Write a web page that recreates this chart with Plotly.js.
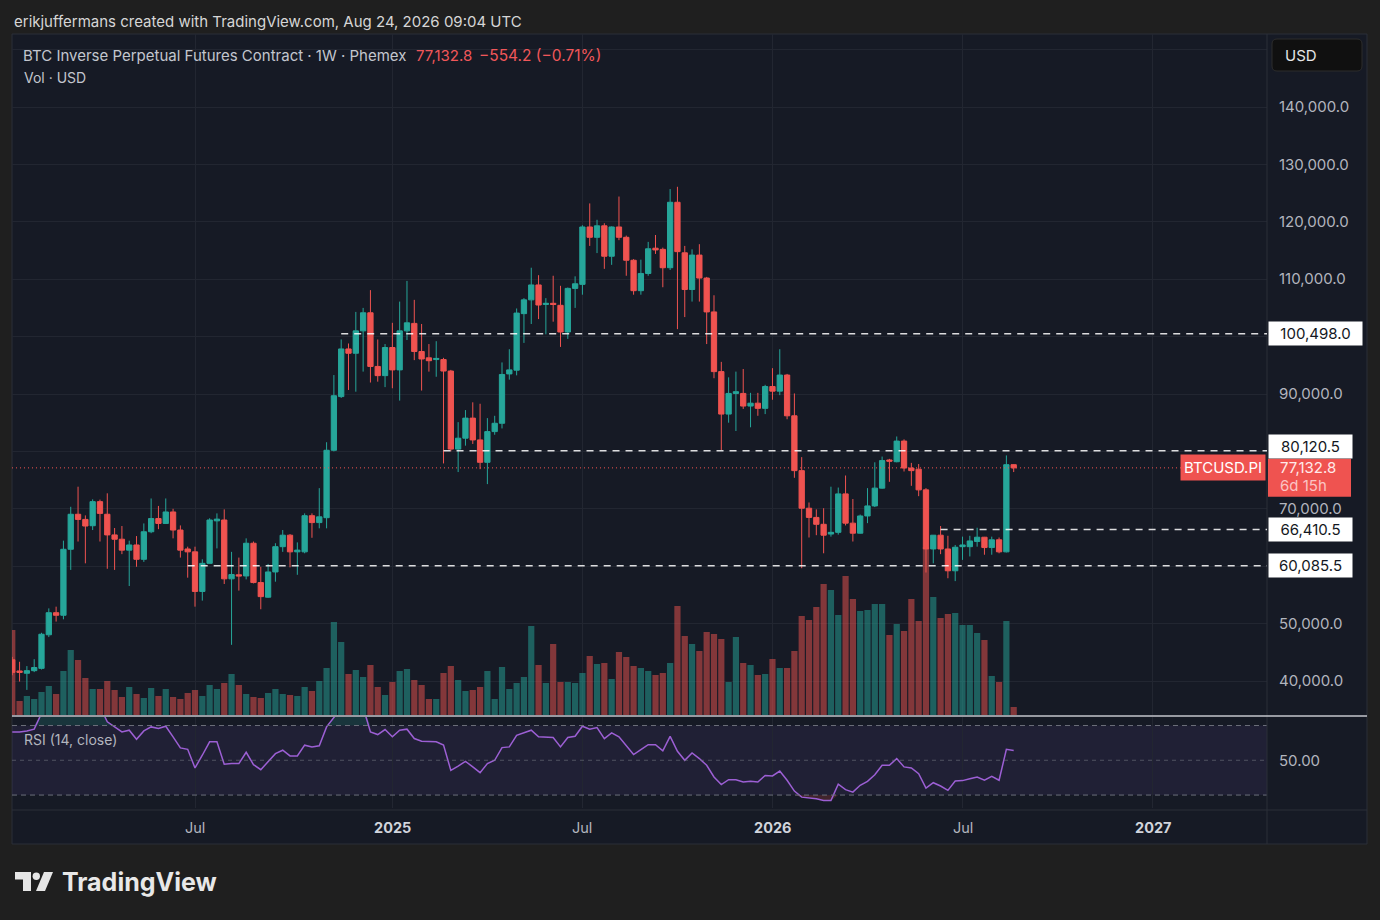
<!DOCTYPE html>
<html><head><meta charset="utf-8">
<script src="https://cdn.plot.ly/plotly-3.0.1.min.js"></script>
<style>html,body{margin:0;padding:0;background:#1f1f1f;}#chart{width:1380px;height:920px;}</style>
</head><body><div id="chart"></div>
<script>
// ---------------- DATA (weekly bars, first bar = week of 2024-01-08) ----------------
const firstWeek = '2024-01-08';
const open = [43700,41750,41350,41800,42200,48050,51900,51450,62950,69050,
68150,67050,71250,69050,65450,64700,62800,63700,61200,66000,
68300,67450,69450,66300,63000,62500,55600,60500,67900,68050,
57800,58500,58300,64000,57150,54600,59000,63400,65400,62500,
62500,68800,67600,68450,80200,89550,97850,97100,101000,104150,
94800,93200,98100,94200,101000,102300,97400,96300,96000,96000,
94000,80400,82300,85800,82000,78100,83450,84900,93500,94150,
104000,106400,109000,105600,105800,105450,100800,108400,109100,119100,
117300,119300,114000,119100,117300,113300,108000,111000,115400,115200,
112000,123400,114600,108200,114200,110200,104300,93900,86500,90100,
90100,87900,88400,87500,91300,90500,93300,86200,76650,70100,
68500,67300,65600,65900,72600,67500,65750,68750,70500,73600,
78500,78200,81800,77100,76900,73300,63000,65400,63000,59200,
63400,63400,64300,65050,63250,64600,62500,77687];
const high = [44200,43350,42600,43800,48400,52650,52950,64450,70350,73850,
68850,71650,71600,72700,66650,67000,64450,65250,67450,71800,
70500,71800,70000,67100,63400,63400,61200,68350,69200,69900,
62500,61500,64850,64300,59900,60400,64000,66300,65600,64150,
69200,69200,73600,81600,93300,99500,98800,104300,105000,108100,
99500,98700,102400,106100,109700,106400,102200,98700,99200,96300,
94200,85100,87200,88550,88300,85800,86200,95500,97800,104900,
106700,112000,110700,106700,110600,108850,108550,110500,119400,123200,
120350,119750,119200,124400,117600,113500,113400,116500,117700,115500,
125700,126100,115800,115200,116100,110400,107200,95600,92900,93900,
94350,90200,90200,91600,94500,97800,93500,90100,79000,71100,
69900,70100,73850,73700,75800,71700,69000,73600,78100,79100,
78700,82600,82100,78000,77800,73600,65400,67000,65300,63700,
65150,65300,66700,65100,65150,65000,79300,77750];
const low = [41000,39900,38450,41550,42000,47650,50350,50750,59350,64300,
60500,66300,64300,59550,59350,62100,56550,59900,60750,65750,
66450,67350,64850,61500,58000,52950,54000,60500,63100,56900,
46300,55750,57700,57000,52500,54500,57300,62500,59800,58500,
62250,64950,66600,66600,80000,89300,90700,90400,93900,92000,
92150,91200,91000,88850,99400,95900,90600,93900,93000,77900,
80000,76400,81000,81300,76900,74300,82900,84000,92500,93250,
98900,102200,103050,100400,102600,98200,99600,105000,107300,115800,
114550,111800,112500,116800,110600,107300,107300,110600,114400,108600,
111600,101300,103400,106100,106100,98700,92750,80250,85000,83550,
87400,84200,86200,86500,89000,89800,85600,75400,59650,65000,
65400,62250,65150,65500,67100,64300,65700,67500,70300,73500,
74700,78100,76500,74000,72200,58900,60500,62100,57900,57400,
61100,61700,63400,62000,62000,62250,62400,76400];
const close = [41500,41500,41800,42350,48150,51900,51450,62950,69050,68150,
67000,71250,69200,65450,64700,62800,63700,61200,66000,68300,
67450,69450,66300,62800,62500,55600,60500,68050,68200,57800,
58550,58300,64000,57150,54700,59000,63400,65400,62500,62800,
68800,67600,68600,80200,89700,97850,97100,101000,104150,94800,
93200,98100,94200,101000,102400,97400,96100,95800,96200,94000,
80400,82300,85800,82000,78100,83450,84900,93400,94200,104100,
106400,109000,105500,105800,105600,100800,108400,109200,119100,117300,
119300,114000,119100,117300,113300,108000,111000,115300,115100,112000,
123400,114800,108200,114200,110200,104300,93900,86500,90100,90400,
87900,88400,87500,91300,90500,93300,86200,76650,70100,68500,
67300,65400,65900,72600,67500,65750,68750,70500,73600,78400,
78300,81800,77100,76650,73300,63000,65400,63000,59200,63300,
63700,64400,65050,63250,64600,62500,77687,77132.8];
const volume = [85,14,19,16,23,29,21,44,65,55,
37,26,26,34,25,18,28,21,17,27,
19,26,18,16,22,25,19,30,26,32,
41,30,21,18,17,22,26,21,20,19,
28,24,34,47,93,73,41,45,38,50,
28,20,33,44,46,35,30,16,16,42,
49,35,24,25,28,44,16,48,26,32,
38,89,50,32,71,33,33,32,42,59,
51,52,36,63,58,49,47,44,40,42,
52,109,79,71,64,83,81,76,33,78,
52,50,40,41,56,47,47,64,99,95,
108,131,125,100,139,116,104,105,111,111,
80,91,84,116,94,168,118,97,101,102,
90,90,82,75,39,33,94,8];
const rsi = [66.3,66.3,66.9,67.9,77,80,79,85,88,86,
83,85,81,72.1,69.2,66.3,67.3,62.1,66.9,69.2,
68.3,69.6,63.5,57.1,56.3,45.6,52.9,60.6,60.6,47.7,
48.1,48.1,54.6,47.5,44.6,49.0,53.8,55.8,52.5,52.5,
58.7,57.7,58.3,69.2,74.0,80,78.5,80,80.5,66.3,
64.8,67.7,63.5,67.3,67.9,62.5,61.0,60.6,60.6,58.7,
44.2,46.7,49.4,46.2,42.9,48.1,50.0,57.3,57.7,64.4,
66.0,67.3,63.5,63.5,63.1,57.7,63.1,63.8,69.6,67.9,
68.8,62.5,65.8,63.5,58.7,53.3,56.2,59.0,59.0,55.4,
63.8,55.2,50.0,54.2,51.0,47.1,40.4,36.0,38.8,38.8,
37.5,37.9,37.5,41.3,41.0,43.8,38.5,32.3,28.8,28.3,
27.9,26.9,26.9,36.2,33.1,31.7,35.6,37.9,41.7,47.1,
47.1,51.0,46.2,45.6,42.3,34.0,37.1,35.2,32.7,38.1,
38.3,39.4,40.4,38.5,40.8,38.5,56.3,55.6];
const levels = [100498.0, 80120.5, 66410.5, 60085.5];
const levelStart = ['2024-11-18', '2025-02-24', '2026-06-15', '2024-06-24'];
const timeTicks = ['2024-07-01', '2025-01-06', '2025-07-07', '2026-01-05', '2026-07-06', '2027-01-04'];
const timeLabels = ['Jul', '2025', 'Jul', '2026', 'Jul', '2027'];
const priceTicks = [40000, 50000, 60000, 70000, 80000, 90000, 100000, 110000, 120000, 130000, 140000, 150000];
const hiddenPriceTicks = [60000, 80000, 100000, 150000];
const symbolName = 'BTC Inverse Perpetual Futures Contract · 1W · Phemex';
const tickerLabel = 'BTCUSD.PI';
const countdown = '6d 15h';
const headerText = 'erikjuffermans created with TradingView.com, Aug 24, 2026 09:04 UTC';

// ---------------- BUILD ----------------
const DAY = 86400000;
const t0 = Date.parse(firstWeek + 'T00:00:00Z');
const dates = close.map((_, i) => new Date(t0 + i * 7 * DAY).toISOString().slice(0, 10));
const xRange = ['2024-01-07 18:00', '2027-04-23 14:00'];
const FONT = 'Inter, "Noto Sans", Roboto, sans-serif';
const UP = '#26a69a', DN = '#ef5350';
const L = 12, R = 1267, T = 34, B = 808;
const PX = x => (x - L) / (R - L);
const PY = y => (B - y) / (B - T);
const fmt = v => v.toLocaleString('en-US', {minimumFractionDigits: 1, maximumFractionDigits: 1});
const n = close.length;
const last = close[n - 1], lastOpen = open[n - 1];
const chg = last - lastOpen, pct = chg / lastOpen * 100;
const signed = (v, d) => (v < 0 ? '\u2212' : '+') + Math.abs(v).toFixed(d);

const traces = [];
traces.push({type: 'bar', x: dates, y: volume, xaxis: 'x', yaxis: 'y',
  marker: {color: close.map((c, i) => c >= open[i] ? 'rgba(38,166,154,0.5)' : 'rgba(239,83,80,0.5)'), line: {width: 0}},
  hoverinfo: 'skip'});
traces.push({type: 'candlestick', x: dates, open, high, low, close, xaxis: 'x', yaxis: 'y2',
  increasing: {line: {color: UP, width: 1}, fillcolor: UP},
  decreasing: {line: {color: DN, width: 1}, fillcolor: DN},
  whiskerwidth: 0, hoverinfo: 'skip'});
traces.push({type: 'scatter', mode: 'lines', x: dates, y: rsi.map(() => 70), xaxis: 'x', yaxis: 'y3', line: {width: 0}, hoverinfo: 'skip'});
traces.push({type: 'scatter', mode: 'lines', x: dates, y: rsi.map(v => Math.max(v, 70)), xaxis: 'x', yaxis: 'y3', line: {width: 0}, fill: 'tonexty', fillcolor: 'rgba(38,166,154,0.2)', hoverinfo: 'skip'});
traces.push({type: 'scatter', mode: 'lines', x: dates, y: rsi.map(() => 30), xaxis: 'x', yaxis: 'y3', line: {width: 0}, hoverinfo: 'skip'});
traces.push({type: 'scatter', mode: 'lines', x: dates, y: rsi.map(v => Math.min(v, 30)), xaxis: 'x', yaxis: 'y3', line: {width: 0}, fill: 'tonexty', fillcolor: 'rgba(239,83,80,0.2)', hoverinfo: 'skip'});
traces.push({type: 'scatter', mode: 'lines', x: dates, y: rsi, xaxis: 'x', yaxis: 'y3', line: {color: '#9c5fd4', width: 1.5}, hoverinfo: 'skip'});

const P = (x, y) => PX(x) + ',' + PY(y);
function rrect(x0, y0, x1, y1, r) {
  return `M${P(x0 + r, y0)}L${P(x1 - r, y0)}Q${P(x1, y0)} ${P(x1, y0 + r)}L${P(x1, y1 - r)}Q${P(x1, y1)} ${P(x1 - r, y1)}L${P(x0 + r, y1)}Q${P(x0, y1)} ${P(x0, y1 - r)}L${P(x0, y0 + r)}Q${P(x0, y0)} ${P(x0 + r, y0)}Z`;
}
const poly = pts => 'M' + pts.map(p => P(p[0], p[1])).join('L') + 'Z';

const shapes = [
  {type: 'rect', xref: 'paper', yref: 'paper', x0: PX(12), x1: PX(1367), y0: PY(844), y1: PY(34), fillcolor: '#161a25', line: {color: '#2a2e39', width: 1}, layer: 'below'},
  {type: 'rect', xref: 'x', yref: 'y3', x0: xRange[0], x1: xRange[1], y0: 30, y1: 70, fillcolor: 'rgba(126,87,194,0.1)', line: {width: 0}, layer: 'below'},
  {type: 'line', xref: 'x', yref: 'y3', x0: xRange[0], x1: xRange[1], y0: 70, y1: 70, line: {color: '#6c6f7a', width: 1, dash: '5px,4px'}},
  {type: 'line', xref: 'x', yref: 'y3', x0: xRange[0], x1: xRange[1], y0: 50, y1: 50, line: {color: 'rgba(120,123,134,0.55)', width: 1, dash: '4px,4px'}},
  {type: 'line', xref: 'x', yref: 'y3', x0: xRange[0], x1: xRange[1], y0: 30, y1: 30, line: {color: '#6c6f7a', width: 1, dash: '5px,4px'}},
  {type: 'line', xref: 'paper', yref: 'paper', x0: PX(12), x1: PX(1367), y0: PY(810), y1: PY(810), line: {color: '#2a2e39', width: 1}},
  {type: 'line', xref: 'paper', yref: 'paper', x0: PX(1267), x1: PX(1267), y0: PY(34), y1: PY(844), line: {color: '#2a2e39', width: 1}},
  {type: 'line', xref: 'paper', yref: 'paper', x0: PX(12), x1: PX(1367), y0: PY(716), y1: PY(716), line: {color: '#c4c6cc', width: 1.5}},
  {type: 'line', xref: 'x', yref: 'y2', x0: xRange[0], x1: xRange[1], y0: last, y1: last, line: {color: DN, width: 1, dash: '1px,3px'}},
  {type: 'rect', xref: 'paper', yref: 'y2', ysizemode: 'pixel', yanchor: last, x0: PX(1268), x1: PX(1351), y0: -29, y1: 9, fillcolor: DN, line: {width: 0}},
  {type: 'path', xref: 'paper', yref: 'paper', path: rrect(1272, 39, 1362, 71, 5), fillcolor: '#101010', line: {color: '#2c2c2c', width: 1}},
  {type: 'path', xref: 'paper', yref: 'paper', path: poly([[15, 872], [31, 872], [31, 891], [23, 891], [23, 879.5], [15, 879.5]]), fillcolor: '#e6e6e6', line: {width: 0}},
  {type: 'circle', xref: 'paper', yref: 'paper', x0: PX(32.6), x1: PX(40), y0: PY(880), y1: PY(872.6), fillcolor: '#e6e6e6', line: {width: 0}},
  {type: 'path', xref: 'paper', yref: 'paper', path: poly([[44, 872], [53, 872], [45, 891], [36, 891]]), fillcolor: '#e6e6e6', line: {width: 0}}
];
levels.forEach((v, k) => shapes.push({type: 'line', xref: 'x', yref: 'y2', x0: levelStart[k], x1: xRange[1], y0: v, y1: v,
  line: {color: 'rgba(255,255,255,0.85)', width: 1.5, dash: '7px,6px'}}));

function txt(text, x, y, size, color, bold) {
  return {text: bold ? '<b>' + text + '</b>' : text, xref: 'paper', yref: 'paper', x: PX(x), y: PY(y), xanchor: 'left', yanchor: 'middle',
    showarrow: false, font: {family: FONT, size: size, color: color}};
}
const annotations = [
  txt(headerText, 12, 22, 15, '#d6d6d6'),
  txt(symbolName, 21, 56, 15, '#c3c6ce'),
  txt(fmt(last), 414, 56, 15, '#f0575a'),
  txt(signed(chg, 1) + ' (' + signed(pct, 2) + '%)', 477, 56, 15.5, '#f0575a'),
  txt('Vol · USD', 22, 77, 14, '#c3c6ce'),
  txt('RSI (14, close)', 22, 739, 14, '#b2b5be'),
  txt('USD', 1283, 55, 15, '#e6e6e6'),
  txt('TradingView', 60, 882, 25, '#e8e8e8', true)
];
timeTicks.forEach((d, k) => {
  const yr = /^\d{4}$/.test(timeLabels[k]);
  annotations.push({text: yr ? '<b>' + timeLabels[k] + '</b>' : timeLabels[k], xref: 'x', x: d, yref: 'paper', y: PY(828), xanchor: 'center', yanchor: 'middle',
    showarrow: false, font: {family: FONT, size: 14.5, color: yr ? '#d1d4dc' : '#b2b5be'}});
});
levels.forEach((v) => {
  const near = Math.abs(v - last) < 3000;
  const s = fmt(v);
  annotations.push({text: s, xref: 'paper', x: PX(1268), xanchor: 'left', yref: 'y2', y: v, yanchor: 'middle', yshift: near ? 4 : 0,
    showarrow: false, bgcolor: '#ffffff', width: 79 + (s.length - 8) * 10, borderpad: 2, align: 'center', font: {family: FONT, size: 15, color: '#131722'}});
});
annotations.push({text: fmt(last), xref: 'paper', x: PX(1278), xanchor: 'left', yref: 'y2', y: last, yanchor: 'middle', showarrow: false, font: {family: FONT, size: 15, color: '#ffe9e9'}});
annotations.push({text: countdown, xref: 'paper', x: PX(1278), xanchor: 'left', yref: 'y2', y: last, yanchor: 'middle', yshift: -18, showarrow: false, font: {family: FONT, size: 15, color: '#fbc4c4'}});
annotations.push({text: tickerLabel, xref: 'paper', x: PX(1266), xanchor: 'right', yref: 'y2', y: last, yanchor: 'middle', showarrow: false,
  bgcolor: DN, borderpad: 3, font: {family: FONT, size: 15, color: '#ffffff'}});

const yTop = 140000 + (107 - T) / 5.74 * 1000;
const yBot = 140000 - (715 - 107) / 5.74 * 1000;
const layout = {
  width: 1380, height: 920,
  margin: {l: L, r: 1380 - R, t: T, b: 920 - B, autoexpand: false},
  paper_bgcolor: '#1f1f1f', plot_bgcolor: '#161a25',
  showlegend: false, bargap: 0.15, boxgap: 0.15, boxgroupgap: 0.15,
  font: {family: FONT, color: '#b2b5be'},
  xaxis: {type: 'date', range: xRange, tickvals: timeTicks, showticklabels: false, ticks: '', showgrid: true, gridcolor: '#222631', gridwidth: 1,
    zeroline: false, showline: false, rangeslider: {visible: false}, fixedrange: true, anchor: 'y3', automargin: false},
  yaxis: {domain: [PY(715), 1], range: [0, 715 - T], visible: false, fixedrange: true, showgrid: false, zeroline: false},
  yaxis2: {overlaying: 'y', side: 'right', range: [yBot, yTop], tickvals: priceTicks,
    ticktext: priceTicks.map(v => hiddenPriceTicks.includes(v) ? '' : fmt(v)),
    showgrid: true, gridcolor: '#222631', gridwidth: 1, ticks: '', zeroline: false, showline: false, automargin: false,
    tickfont: {family: FONT, size: 15, color: '#b2b5be'}, ticklabelstandoff: 11, fixedrange: true},
  yaxis3: {domain: [0, PY(717)], range: [22.55, 74.9], side: 'right', anchor: 'x', tickvals: [50], ticktext: ['50.00'], showgrid: false,
    ticks: '', zeroline: false, showline: false, automargin: false, tickfont: {family: FONT, size: 15, color: '#b2b5be'}, ticklabelstandoff: 11, fixedrange: true},
  shapes, annotations
};
Plotly.newPlot('chart', traces, layout, {displayModeBar: false, staticPlot: true});
</script></body></html>
